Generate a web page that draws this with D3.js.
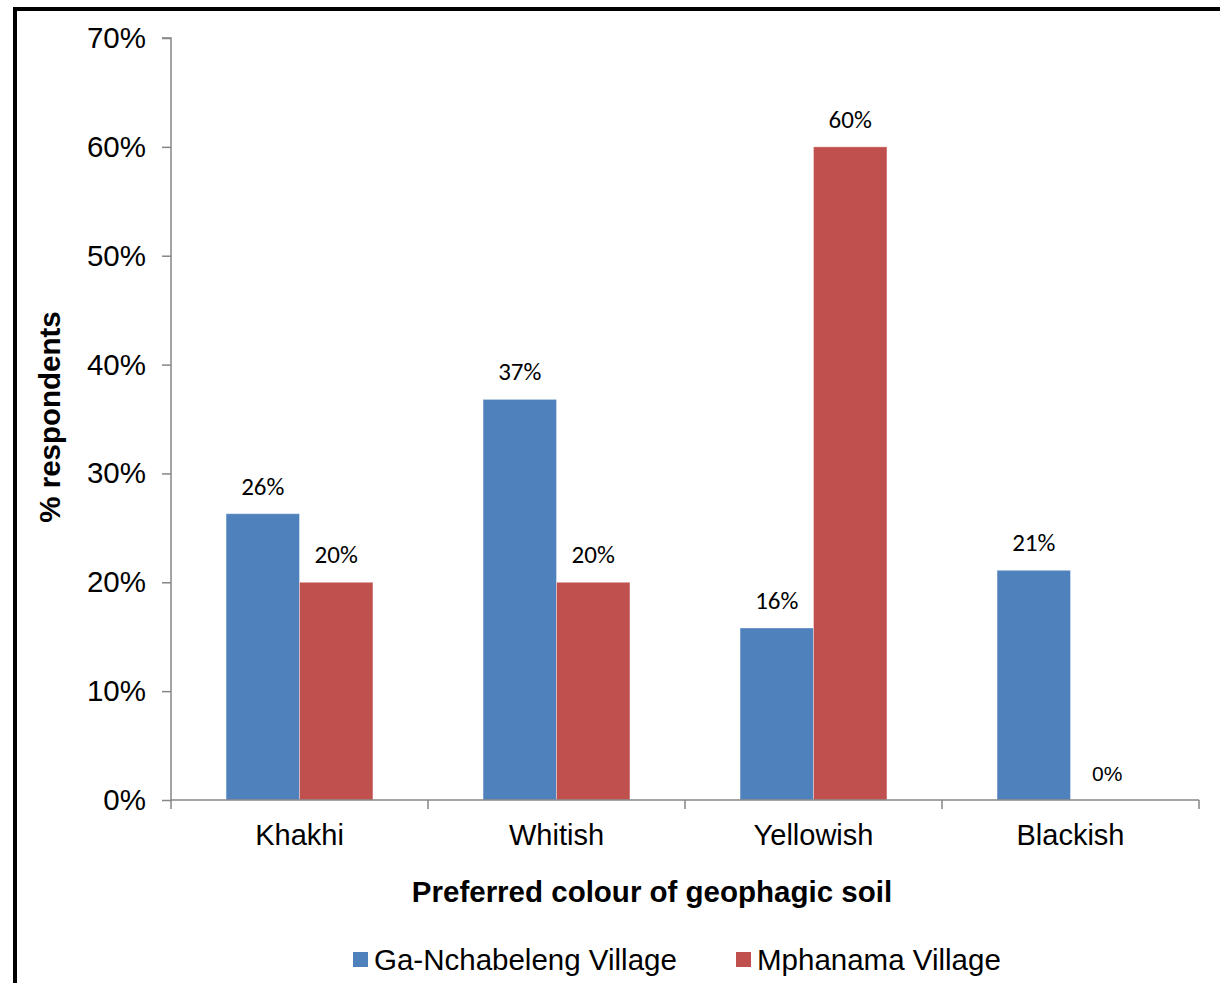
<!DOCTYPE html>
<html>
<head>
<meta charset="utf-8">
<script src="https://cdn.jsdelivr.net/npm/d3@7"></script>
<style>
  html, body { margin: 0; padding: 0; background: #fff; }
  svg { display: block; }
</style>
</head>
<body>
<svg id="chart" width="1220" height="983"></svg>
<script>
// Preferred colour of geophagic soil, share of respondents per village
const categories = ["Khakhi", "Whitish", "Yellowish", "Blackish"];
const seriesNames = ["Ga-Nchabeleng Village", "Mphanama Village"];
const gaNchabeleng = [0.263, 0.368, 0.158, 0.211];
const mphanama = [0.20, 0.20, 0.60, 0.0];
const yTicks = [0, 0.1, 0.2, 0.3, 0.4, 0.5, 0.6, 0.7];
const colours = ["#4F81BD", "#C0504D"];

const svg = d3.select("#chart");
const W = 1220, H = 983;
const plot = { left: 171, right: 1199, top: 38, bottom: 800 };
const sans = "Liberation Sans, Arial, sans-serif";

// frame lines along the top and left edges
svg.append("rect").attr("x", 13).attr("y", 7).attr("width", W - 13).attr("height", 4).attr("fill", "#000");
svg.append("rect").attr("x", 13).attr("y", 7).attr("width", 4).attr("height", H - 7).attr("fill", "#000");

const x0 = d3.scaleBand().domain(categories).range([plot.left, plot.right]).paddingInner(0).paddingOuter(0);
// gap width 150%: each bar is 1/3.5 of a band, the pair is centred
const x1 = d3.scaleBand().domain(seriesNames).range([0, x0.bandwidth()]).paddingInner(0).paddingOuter(0.75);
const y = d3.scaleLinear().domain([0, 0.7]).range([plot.bottom, plot.top]);

const rows = categories.map((c, i) => ({
  cat: c,
  vals: [
    { s: seriesNames[0], v: gaNchabeleng[i], c: colours[0] },
    { s: seriesNames[1], v: mphanama[i], c: colours[1] }
  ]
}));

const groups = svg.append("g").selectAll("g").data(rows).join("g")
  .attr("transform", d => `translate(${x0(d.cat)},0)`);

groups.selectAll("rect").data(d => d.vals).join("rect")
  .attr("x", d => x1(d.s))
  .attr("y", d => y(d.v))
  .attr("width", x1.bandwidth())
  .attr("height", d => plot.bottom - y(d.v))
  .attr("fill", d => d.c)
  .attr("stroke", "rgba(255,255,255,0.35)")
  .attr("stroke-width", 1);

const fmt = d3.format(".0%");
groups.selectAll("text.val").data(d => d.vals).join("text")
  .attr("class", "val")
  .attr("x", d => x1(d.s) + x1.bandwidth() / 2)
  .attr("y", d => y(d.v) - 19)
  .attr("text-anchor", "middle")
  .attr("font-family", d => d.v === 0 ? sans : "Carlito, Calibri, Lato, sans-serif")
  .attr("font-size", d => d.v === 0 ? 21 : 25)
  .attr("fill", "#000")
  .text(d => fmt(d.v));

// y axis
const yAxis = d3.axisLeft(y).tickValues(yTicks).tickFormat(d3.format(".0%")).tickSize(9).tickPadding(16);
const gy = svg.append("g").attr("transform", `translate(${plot.left},0)`).call(yAxis);
gy.select(".domain").attr("stroke", "#868686").attr("stroke-width", 1.5).attr("d", `M-9,${plot.top}H0V${plot.bottom}`);
gy.selectAll(".tick line").attr("stroke", "#868686").attr("stroke-width", 1.5);
gy.selectAll(".tick text")
  .attr("font-family", sans)
  .attr("font-size", 29.5)
  .attr("fill", "#000");

// x axis
const xAxis = d3.axisBottom(x0).tickSize(0).tickPadding(24);
const gx = svg.append("g").attr("transform", `translate(0,${plot.bottom})`).call(xAxis);
gx.select(".domain").attr("stroke", "#868686").attr("stroke-width", 1.5).attr("d", `M${plot.left},0H${plot.right}`);
gx.selectAll(".tick text")
  .attr("font-family", sans)
  .attr("font-size", 29)
  .attr("fill", "#000");
// category separators
const seps = categories.map(c => x0(c)).concat([plot.right]);
gx.selectAll("line.sep").data(seps).join("line")
  .attr("class", "sep")
  .attr("x1", d => d).attr("x2", d => d)
  .attr("y1", 0).attr("y2", 9)
  .attr("stroke", "#868686").attr("stroke-width", 1.5);

// axis titles
svg.append("text")
  .attr("x", 652).attr("y", 902)
  .attr("text-anchor", "middle")
  .attr("font-family", sans)
  .attr("font-weight", "bold")
  .attr("font-size", 29.5)
  .text("Preferred colour of geophagic soil");

svg.append("text")
  .attr("transform", "translate(60,417) rotate(-90)")
  .attr("text-anchor", "middle")
  .attr("font-family", sans)
  .attr("font-weight", "bold")
  .attr("font-size", 29.5)
  .text("% respondents");

// legend
const legendX = [353, 736];
const legend = svg.append("g").selectAll("g").data(seriesNames).join("g")
  .attr("transform", (d, i) => `translate(${legendX[i]},952)`);
legend.append("rect").attr("width", 15).attr("height", 15).attr("fill", (d, i) => colours[i]);
legend.append("text")
  .attr("x", 21).attr("y", 18)
  .attr("font-family", sans)
  .attr("font-size", 29.5)
  .attr("fill", "#000")
  .text(d => d);
</script>
</body>
</html>
